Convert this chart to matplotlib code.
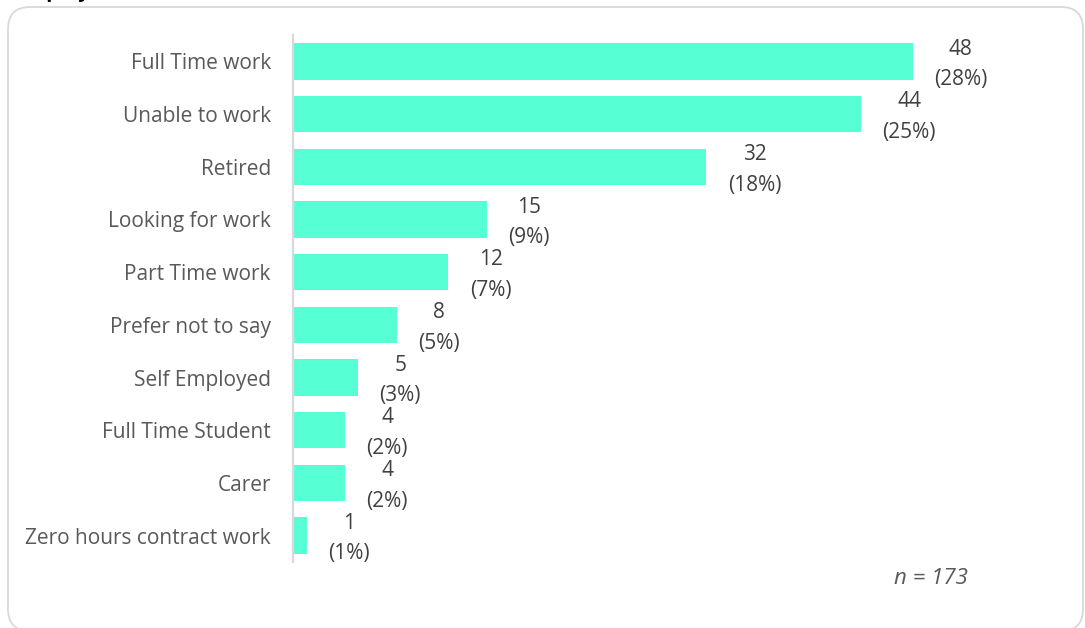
import matplotlib.pyplot as plt
from matplotlib.patches import FancyBboxPatch
from matplotlib.transforms import IdentityTransform

categories = [
    "Full Time work",
    "Unable to work",
    "Retired",
    "Looking for work",
    "Part Time work",
    "Prefer not to say",
    "Self Employed",
    "Full Time Student",
    "Carer",
    "Zero hours contract work",
]
counts = [48, 44, 32, 15, 12, 8, 5, 4, 4, 1]
total = 173

BAR_COLOR = "#57FFD5"
LABEL_COLOR = "#595959"
VALUE_COLOR = "#404040"
FONT = "Open Sans"

W, H = 1085, 628
fig = plt.figure(figsize=(W / 100, H / 100), dpi=100)

# rounded frame around the whole chart, in pixel units
frame = FancyBboxPatch(
    (8, -3), 1075, H - 7 + 3,
    boxstyle="round,pad=0,rounding_size=22",
    transform=IdentityTransform(), facecolor="white",
    edgecolor="#d9d9d9", lw=1.3, zorder=-1,
)
fig.patches.append(frame)

# title sits above the frame, mostly cut off
fig.text(14 / W, 1 + 3 / H, "Employment", fontsize=15, fontweight="bold",
         family=FONT, color="black", va="baseline", ha="left")

ax = fig.add_axes([293 / W, 1 - 562 / H, 774 / W, (562 - 35) / H])
ax.set_facecolor("none")
y = list(range(len(categories)))
ax.barh(y, counts, height=0.69, color=BAR_COLOR, left=0.05)
ax.set_ylim(len(categories) - 0.5, -0.5)
ax.set_xlim(0, 60)

ax.set_yticks(y)
ax.set_yticklabels(categories, family=FONT, fontsize=15, color=LABEL_COLOR)
ax.tick_params(axis="y", length=0, pad=16)
ax.set_xticks([])
for side in ("top", "right", "bottom"):
    ax.spines[side].set_visible(False)
ax.spines["left"].set_color("#d9d9d9")
ax.spines["left"].set_linewidth(1.6)

for yi, c in zip(y, counts):
    pct = round(c / total * 100)
    ax.annotate(f"{c}\n({pct}%)", (c, yi), xytext=(22, -3),
                textcoords="offset pixels",
                ha="left", va="center", multialignment="center",
                family=FONT, fontsize=15, color=VALUE_COLOR, linespacing=1.6)

fig.text(931 / W, 1 - 578 / H, f"n = {total}", family=FONT, fontsize=16,
         style="italic", color=LABEL_COLOR, ha="center", va="center")

fig.savefig("out.png", dpi=100)
